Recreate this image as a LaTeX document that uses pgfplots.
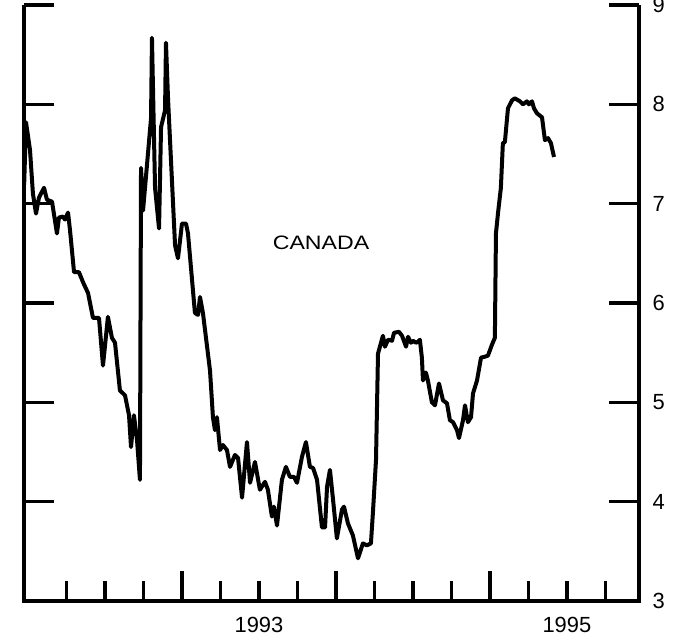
\documentclass[border=0pt]{standalone}
\usepackage{fontspec}
\setmainfont{Liberation Sans}
\usepackage{pgfplots}
\pgfplotsset{compat=1.18}
\begin{document}
\begin{tikzpicture}
\useasboundingbox (0,0) rectangle (692bp,644bp);
\begin{axis}[
  at={(24bp,43bp)}, anchor=south west,
  scale only axis, width=615bp, height=596bp,
  xmin=1991.974, xmax=1995.968, ymin=3, ymax=9,
  axis line style={draw=none},
  clip=false,
  tick align=inside,
  xtick pos=bottom, ytick pos=both, yticklabel pos=right,
  ytick={3,4,5,6,7,8,9},
  xtick={1993,1994,1995},
  xticklabels={},
  minor xtick={1992.25,1992.5,1992.75,1993.25,1993.5,1993.75,1994.25,1994.5,1994.75,1995.25,1995.5,1995.75},
  extra x ticks={1993.5,1995.5},
  extra x tick labels={1993,1995},
  extra x tick style={major tick length=0pt},
  major tick length=30bp, minor tick length=20bp,
  every tick/.style={black, line width=3.4bp},
  ticklabel style={font=\fontsize{22}{26}\selectfont},
  xticklabel style={yshift=-13bp},
  yticklabel style={xshift=10bp},
  /pgf/number format/assume math mode=true,
]
\addplot[black, line width=4bp, line join=round, mark=none] coordinates {
(1991.975,7.19) (1991.987,7.82) (1992.013,7.54) (1992.032,7.10) (1992.052,6.90)
(1992.071,7.06) (1992.104,7.16) (1992.123,7.04) (1992.156,7.02) (1992.188,6.70)
(1992.201,6.86) (1992.227,6.87) (1992.240,6.84) (1992.260,6.91) (1992.273,6.73)
(1992.299,6.31) (1992.331,6.31) (1992.357,6.21) (1992.390,6.10) (1992.422,5.85)
(1992.461,5.85) (1992.487,5.37) (1992.519,5.86) (1992.545,5.65) (1992.565,5.60)
(1992.597,5.12) (1992.630,5.07) (1992.656,4.87) (1992.669,4.55) (1992.688,4.87)
(1992.708,4.62) (1992.727,4.22) (1992.734,7.36) (1992.747,6.93) (1992.799,7.86)
(1992.805,8.67) (1992.825,7.16) (1992.851,6.75) (1992.864,7.77) (1992.890,7.94)
(1992.896,8.62) (1992.909,8.07) (1992.955,6.58) (1992.974,6.45) (1993.000,6.80)
(1993.026,6.80) (1993.039,6.70) (1993.084,5.90) (1993.104,5.88) (1993.117,6.06)
(1993.136,5.90) (1993.182,5.32) (1993.201,4.85) (1993.214,4.72) (1993.227,4.85)
(1993.247,4.52) (1993.266,4.57) (1993.292,4.52) (1993.312,4.35) (1993.344,4.47)
(1993.364,4.44) (1993.390,4.04) (1993.422,4.60) (1993.442,4.19) (1993.474,4.40)
(1993.506,4.12) (1993.539,4.20) (1993.558,4.12) (1993.584,3.85) (1993.597,3.95)
(1993.617,3.76) (1993.649,4.22) (1993.675,4.35) (1993.701,4.25) (1993.727,4.25)
(1993.747,4.19) (1993.779,4.45) (1993.805,4.60) (1993.831,4.35) (1993.851,4.34)
(1993.877,4.22) (1993.909,3.74) (1993.929,3.74) (1993.942,4.15) (1993.961,4.32)
(1993.981,4.02) (1994.006,3.63) (1994.039,3.92) (1994.052,3.95) (1994.078,3.78)
(1994.110,3.66) (1994.143,3.43) (1994.175,3.58) (1994.201,3.56) (1994.227,3.58)
(1994.240,3.89) (1994.260,4.42) (1994.273,5.49) (1994.305,5.67) (1994.318,5.56)
(1994.338,5.63) (1994.364,5.62) (1994.377,5.70) (1994.409,5.71) (1994.429,5.67)
(1994.455,5.56) (1994.468,5.66) (1994.487,5.60) (1994.500,5.62) (1994.519,5.60)
(1994.532,5.61) (1994.545,5.63) (1994.558,5.45) (1994.565,5.22) (1994.584,5.30)
(1994.597,5.22) (1994.623,5.00) (1994.643,4.97) (1994.669,5.19) (1994.695,5.02)
(1994.721,4.99) (1994.740,4.82) (1994.760,4.80) (1994.786,4.72) (1994.799,4.64)
(1994.825,4.82) (1994.838,4.97) (1994.857,4.80) (1994.877,4.85) (1994.890,5.09)
(1994.916,5.22) (1994.942,5.45) (1994.968,5.46) (1994.987,5.47) (1995.013,5.58)
(1995.032,5.65) (1995.039,6.70) (1995.052,6.90) (1995.071,7.16) (1995.084,7.61)
(1995.097,7.62) (1995.117,7.96) (1995.143,8.04) (1995.162,8.06) (1995.195,8.03)
(1995.214,8.00) (1995.240,8.03) (1995.253,8.00) (1995.273,8.03) (1995.286,7.96)
(1995.305,7.91) (1995.338,7.87) (1995.357,7.64) (1995.377,7.66) (1995.396,7.61)
(1995.416,7.47)
};
\draw[black, line width=3.4bp] (rel axis cs:0,1) -- (rel axis cs:0,0) -- (rel axis cs:1,0) -- (rel axis cs:1,1);
\node[font=\fontsize{19.5}{23}\selectfont] at (axis cs:1993.903,6.61) {\scalebox{1.19}[1]{CANADA}};
\end{axis}
\end{tikzpicture}
\end{document}
